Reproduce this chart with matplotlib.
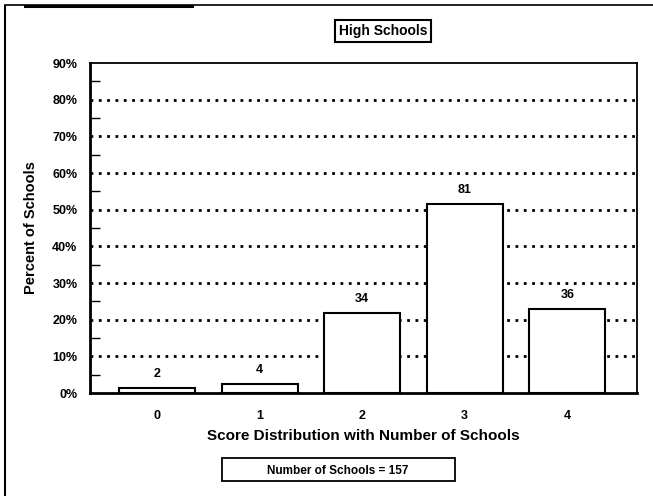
import matplotlib.pyplot as plt
from matplotlib.ticker import MultipleLocator, FuncFormatter
from matplotlib.lines import Line2D
from matplotlib.patches import Rectangle

plt.rcParams['font.family'] = ['Liberation Sans', 'DejaVu Sans']
plt.rcParams['font.weight'] = 'bold'

# Data
scores = ["0", "1", "2", "3", "4"]
percents = [1.3, 2.5, 21.7, 51.6, 22.9]
counts = [2, 4, 34, 81, 36]
total_schools = 157

fig = plt.figure(figsize=(6.53, 4.96), dpi=100)
ax = fig.add_axes([90 / 653, 1 - 393 / 496, 547 / 653, 330 / 496])

x = range(len(scores))
ax.bar(x, percents, width=0.74, color="white", edgecolor="black", linewidth=1.5, zorder=3)
for xi, p, c in zip(x, percents, counts):
    ax.text(xi, p + 2.2, str(c), ha="center", va="bottom", fontsize=9, fontweight="bold")

ax.set_xlim(-0.654, 4.68)
ax.set_ylim(0, 90)
ax.set_xticks(list(x))
ax.set_xticklabels(scores, fontsize=9, fontweight="bold")
ax.yaxis.set_major_locator(MultipleLocator(10))
ax.yaxis.set_minor_locator(MultipleLocator(5))
ax.yaxis.set_major_formatter(FuncFormatter(lambda v, pos: f"{int(v)}%"))
for lab in ax.get_yticklabels():
    lab.set_fontsize(9)
    lab.set_fontweight("bold")
ax.tick_params(axis="x", length=0, pad=12)
ax.tick_params(axis="y", which="major", length=0, pad=9)
ax.tick_params(axis="y", which="minor", direction="in", length=7, width=1)

# dotted grid lines, none on the top edge
for level in range(10, 90, 10):
    ax.axhline(level, color="black", linestyle=(0, (1, 2)), linewidth=2, zorder=1)

for s in ["left", "bottom"]:
    ax.spines[s].set_linewidth(2)
for s in ["top", "right"]:
    ax.spines[s].set_linewidth(1.3)

ax.set_xlabel("Score Distribution with Number of Schools", fontsize=11, fontweight="bold", labelpad=5)
ax.set_ylabel("Percent of Schools", fontsize=10.5, fontweight="bold", labelpad=10)

# title box
fig.text(383 / 653, 1 - 31 / 496, "High Schools", ha="center", va="center", fontsize=10, fontweight="bold",
         bbox=dict(boxstyle="square,pad=0.3", facecolor="white", edgecolor="black", linewidth=1.5))

# count box
fig.add_artist(Rectangle((222 / 653, 1 - 481 / 496), 233 / 653, 23 / 496, transform=fig.transFigure,
                         facecolor="white", edgecolor="black", linewidth=1.3))
fig.text(338 / 653, 1 - 470 / 496, f"Number of Schools = {total_schools}", ha="center", va="center_baseline",
         fontsize=8.5, fontweight="bold")

# page frame lines from the scan
fig.add_artist(Line2D([5 / 653, 5 / 653], [0, 1 - 6 / 496], color="black", linewidth=1.5))
fig.add_artist(Line2D([5 / 653, 1], [1 - 5 / 496, 1 - 5 / 496], color="black", linewidth=1.2))
fig.add_artist(Line2D([25 / 653, 192 / 653], [1 - 6 / 496, 1 - 6 / 496], color="black", linewidth=2.2))

fig.savefig("out.png", dpi=100)
